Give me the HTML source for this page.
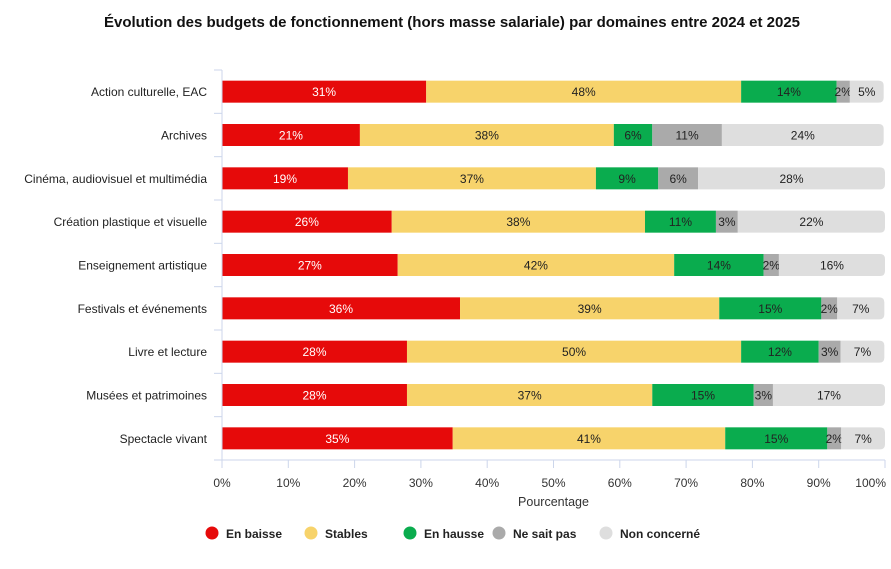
<!DOCTYPE html>
<html><head><meta charset="utf-8">
<style>
body{margin:0;background:#fff;font-family:"Liberation Sans",sans-serif;}
svg text{font-family:"Liberation Sans",sans-serif;}
</style></head>
<body>
<svg id="chart" width="891" height="564" xmlns="http://www.w3.org/2000/svg">
<text x="452" y="27" text-anchor="middle" font-size="15" font-weight="bold" fill="#111">Évolution des budgets de fonctionnement (hors masse salariale) par domaines entre 2024 et 2025</text>
<g id="plot"></g>
</svg>
<script>
const categories = ["Action culturelle, EAC","Archives","Cinéma, audiovisuel et multimédia","Création plastique et visuelle","Enseignement artistique","Festivals et événements","Livre et lecture","Musées et patrimoines","Spectacle vivant"];
const seriesNames = ["En baisse","Stables","En hausse","Ne sait pas","Non concerné"];
const enBaisse = [30.8,20.8,19.0,25.6,26.5,35.9,27.9,27.9,34.8];
const stables = [47.5,38.3,37.4,38.2,41.7,39.1,50.4,37.0,41.1];
const enHausse = [14.4,5.8,9.4,10.7,13.5,15.4,11.7,15.3,15.4];
const neSaitPas = [2.0,10.5,6.0,3.3,2.3,2.4,3.3,2.9,2.1];
const nonConcerne = [5.1,24.4,28.2,22.2,16.0,7.1,6.6,16.9,6.6];
const xTicks = [0,10,20,30,40,50,60,70,80,90,100];

const colors = ["#e60a0a","#f7d36b","#0aac4e","#aaaaaa","#dedede"];
const textColors = ["#fff","#222","#222","#222","#222"];
const series = [enBaisse,stables,enHausse,neSaitPas,nonConcerne];
const NS="http://www.w3.org/2000/svg";
const g=document.getElementById('plot');
const x0=222,x1=885,yTop=70,yBot=460;
const band=(yBot-yTop)/categories.length, barH=22;
const xs=v=>x0+(x1-x0)*v/100;
const yc=i=>yTop+band*(i+0.5);
function el(t,a,p){const e=document.createElementNS(NS,t);for(const k in a)e.setAttribute(k,a[k]);(p||g).appendChild(e);return e;}

categories.forEach((c,i)=>{
  let acc=0;
  series.forEach((s,k)=>{
    const v=s[i], xa=xs(acc), xb=xs(acc+v);
    let r;
    if(k===series.length-1){
      const h=barH, y=yc(i)-h/2, rr=5;
      r=el('path',{d:`M${xa},${y}H${xb-rr}Q${xb},${y} ${xb},${y+rr}V${y+h-rr}Q${xb},${y+h} ${xb-rr},${y+h}H${xa}Z`,fill:colors[k]});
    } else {
      r=el('rect',{x:xa,y:yc(i)-barH/2,width:xb-xa,height:barH,fill:colors[k]});
    }
    
    
    const t=el('text',{x:(xa+xb)/2,y:yc(i)+4.5,'text-anchor':'middle','font-size':12,fill:textColors[k]});
    t.textContent=Math.round(v)+'%';
    
    
    acc+=v;
  });
  const l=el('text',{x:207,y:yc(i)+4.5,'text-anchor':'end','font-size':12,fill:'#222'});
  l.textContent=c;
  
  
});
const ya=el('line',{x1:x0,y1:yTop,x2:x0,y2:yBot,stroke:'#ccd6eb'});


for(let i=0;i<=categories.length;i++){
  const t=el('line',{x1:x0-8,x2:x0,y1:yTop+band*i,y2:yTop+band*i,stroke:'#ccd6eb'});
  
  
}
const xa=el('line',{x1:x0,y1:yBot,x2:x1,y2:yBot,stroke:'#ccd6eb'});


xTicks.forEach((v,j)=>{
  const t=el('line',{x1:xs(v),x2:xs(v),y1:yBot,y2:yBot+8,stroke:'#ccd6eb'});
  
  
  const last=j===xTicks.length-1;
  const l=el('text',{x:last?886:xs(v),y:487,'text-anchor':last?'end':'middle','font-size':12,fill:'#333'});
  l.textContent=v+'%';
  
  
});
const xt=el('text',{x:(x0+x1)/2,y:506,'text-anchor':'middle','font-size':12.5,fill:'#333'});
xt.textContent='Pourcentage';


const legX=[212,311,410,499,606];
seriesNames.forEach((n,k)=>{
  const c=el('circle',{cx:legX[k],cy:533,r:6.5,fill:colors[k]});
  
  
  const t=el('text',{x:legX[k]+14,y:538,'font-size':12,'font-weight':'bold',fill:'#222'});
  t.textContent=n;
  
  
});
</script>
</body></html>
